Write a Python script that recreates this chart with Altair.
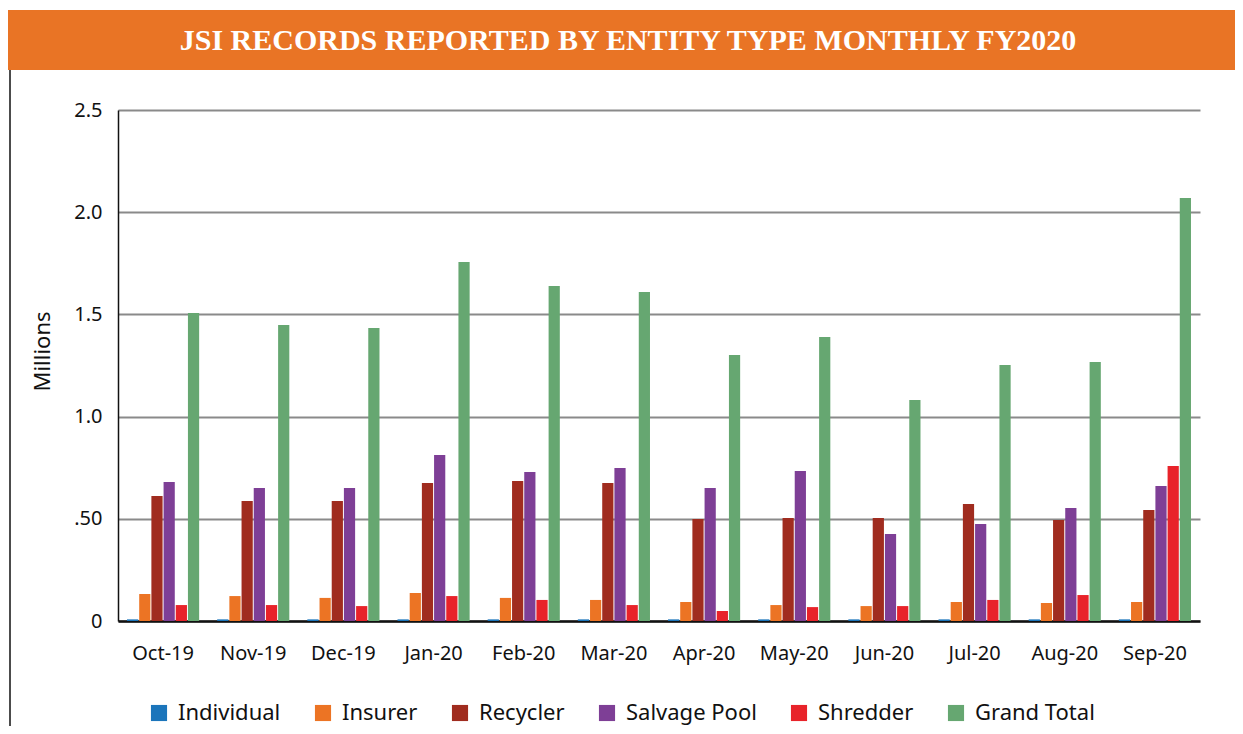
import altair as alt
import pandas as pd

months = ["Oct-19", "Nov-19", "Dec-19", "Jan-20", "Feb-20", "Mar-20",
          "Apr-20", "May-20", "Jun-20", "Jul-20", "Aug-20", "Sep-20"]
entities = ["Individual", "Insurer", "Recycler", "Salvage Pool", "Shredder", "Grand Total"]
colors = ["#1B75BB", "#EC7424", "#A02C1F", "#7E3F96", "#E8232A", "#66A771"]

individual = [0.008, 0.008, 0.008, 0.008, 0.008, 0.008, 0.008, 0.008, 0.008, 0.008, 0.008, 0.008]
insurer = [0.132, 0.122, 0.113, 0.137, 0.113, 0.103, 0.093, 0.078, 0.073, 0.093, 0.088, 0.093]
recycler = [0.611, 0.587, 0.587, 0.675, 0.685, 0.675, 0.499, 0.504, 0.504, 0.572, 0.494, 0.543]
salvage_pool = [0.680, 0.651, 0.651, 0.812, 0.729, 0.749, 0.651, 0.734, 0.426, 0.475, 0.553, 0.660]
shredder = [0.078, 0.078, 0.073, 0.122, 0.103, 0.078, 0.049, 0.068, 0.073, 0.103, 0.127, 0.758]
grand_total = [1.507, 1.448, 1.433, 1.756, 1.639, 1.610, 1.301, 1.390, 1.081, 1.252, 1.267, 2.070]

title_text = "JSI RECORDS REPORTED BY ENTITY TYPE MONTHLY FY2020"

series = [individual, insurer, recycler, salvage_pool, shredder, grand_total]
rows = []
for ent, vals in zip(entities, series):
    for m, v in zip(months, vals):
        rows.append({"Month": m, "Entity": ent, "Value": v})
df = pd.DataFrame(rows)

W, H = 1082, 511

bars = alt.Chart(df).mark_bar().encode(
    x=alt.X("Month:N", sort=months,
            scale=alt.Scale(paddingInner=0.2, paddingOuter=0.1),
            axis=alt.Axis(title=None, labelAngle=0, labelFontSize=20,
                          labelFont="Noto Sans", labelColor="#111",
                          labelPadding=22, ticks=False, domain=True,
                          domainColor="#111", domainWidth=2.5, grid=False)),
    xOffset=alt.XOffset("Entity:N", sort=entities,
                        scale=alt.Scale(paddingInner=0.08)),
    y=alt.Y("Value:Q",
            scale=alt.Scale(domain=[0, 2.5], nice=False),
            axis=alt.Axis(values=[0, 0.5, 1.0, 1.5, 2.0, 2.5],
                          labelExpr="datum.value == 0 ? '0' : datum.value == 0.5 ? '.50' : format(datum.value, '.1f')",
                          title="Millions", titleFontSize=22, titleFont="Noto Sans",
                          titleFontWeight="normal", titleColor="#111",
                          titleAngle=-90, titleX=-64, titleY=241,
                          titleBaseline="bottom", titleAlign="center",
                          labelFontSize=20, labelFont="Noto Sans", labelColor="#111",
                          labelPadding=16, ticks=False,
                          domainColor="#111", domainWidth=1.5,
                          gridColor="#8a8a8a", gridWidth=2)),
    color=alt.Color("Entity:N", sort=entities,
                    scale=alt.Scale(domain=entities, range=colors),
                    legend=alt.Legend(title=None, orient="none", direction="horizontal",
                                      legendX=30, legendY=592,
                                      symbolType="square", symbolSize=260,
                                      symbolStrokeWidth=0, symbolOpacity=1,
                                      labelFontSize=22, labelFont="Noto Sans",
                                      labelColor="#111", columnPadding=31,
                                      labelOffset=8)),
)

header_df = pd.DataFrame({"t": [title_text]})
header = alt.Chart(header_df).mark_rect(color="#E97425").encode(
    x=alt.value(-110), x2=alt.value(1117), y=alt.value(-100), y2=alt.value(-40)
)
header_text = alt.Chart(header_df).mark_text(
    color="white", font="Liberation Serif", fontWeight="bold", fontSize=30,
    align="center", baseline="middle"
).encode(text="t:N", x=alt.value(510), y=alt.value(-69))

left_line = alt.Chart(header_df).mark_rule(color="#111", strokeWidth=1.5).encode(
    x=alt.value(-108), y=alt.value(-40), y2=alt.value(616)
)

chart = alt.layer(header, header_text, left_line, bars).properties(
    width=W, height=H,
    autosize=alt.AutoSizeParams(type="none"),
    padding={"left": 110, "top": 102, "right": 35, "bottom": 105},
).configure_view(stroke=None)

chart.save("out.html", embed_options={"renderer": "svg", "actions": False})
